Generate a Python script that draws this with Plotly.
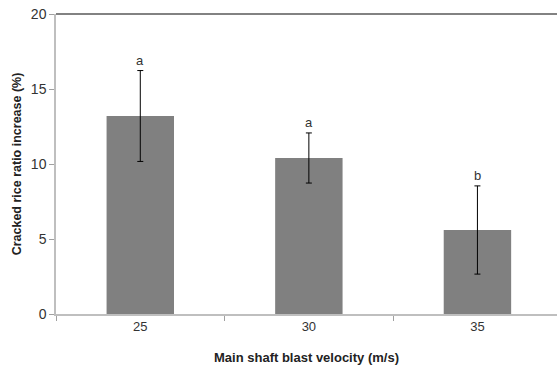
import plotly.graph_objects as go

categories = [25, 30, 35]
values = [13.2, 10.4, 5.6]
errors = [3.03, 1.67, 2.94]
letters = ["a", "a", "b"]
y_ticks = [0, 5, 10, 15, 20]

fig = go.Figure()
fig.add_trace(go.Bar(
    x=categories, y=values, width=2.0,
    marker=dict(color="#808080", line=dict(width=0)),
    error_y=dict(type="data", array=errors, visible=True, color="#000000", thickness=1, width=3),
))

for c, v, e, l in zip(categories, values, errors, letters):
    fig.add_annotation(x=c, y=v + e, text=l, showarrow=False, yanchor="bottom", yshift=1,
                       font=dict(family="Liberation Sans, Arial", size=13, color="#333333"))

fig.add_shape(type="line", xref="paper", yref="paper", x0=0, x1=1, y0=1, y1=1,
              line=dict(color="#595959", width=1.5))

fig.update_layout(
    width=557, height=365,
    margin=dict(l=56, r=0, t=14, b=51),
    plot_bgcolor="white", paper_bgcolor="white",
    showlegend=False,
    font=dict(family="Liberation Sans, Arial", size=13, color="#333333"),
    xaxis=dict(range=[22.5, 37.36], tickvals=categories, ticktext=[str(c) for c in categories],
               ticks="", automargin=False, tickangle=0,
               minor=dict(tickvals=[22.5, 27.5, 32.5], ticks="outside", ticklen=5, tickcolor="#a0a0a0"),
               showline=True, linecolor="#bfbfbf", linewidth=1.5,
               showgrid=False, zeroline=False, tickfont=dict(size=13),
               title=dict(text="<b>Main shaft blast velocity (m/s)</b>", font=dict(size=13, color="#222222"), standoff=20)),
    yaxis=dict(range=[0, 20], tickvals=y_ticks, ticks="outside", ticklen=5, automargin=False,
               tickcolor="#a0a0a0", showline=True, linecolor="#bfbfbf", linewidth=1.5,
               showgrid=False, zeroline=False, tickfont=dict(size=14),
               title=dict(text="<b>Cracked rice ratio increase (%)</b>", font=dict(size=12.5, color="#222222"), standoff=6)),
)

fig.write_html("out.html", post_script="document.body.style.margin='0';",
               config={"displayModeBar": False})
